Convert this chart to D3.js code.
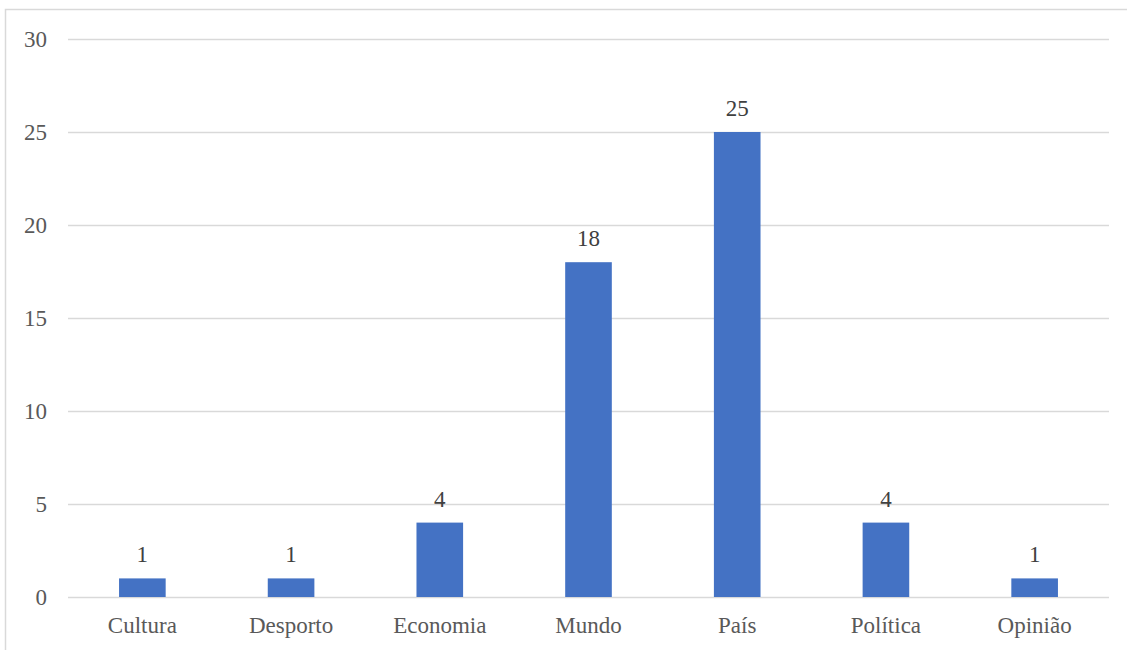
<!DOCTYPE html>
<html>
<head>
<meta charset="utf-8">
<script src="https://cdn.jsdelivr.net/npm/d3@7"></script>
<style>
  html, body { margin: 0; padding: 0; background: #fff; }
  svg { display: block; }
</style>
</head>
<body>
<svg id="chart" width="1127" height="650"></svg>
<script>
// Article counts per newspaper section
const categories = ["Cultura", "Desporto", "Economia", "Mundo", "País", "Política", "Opinião"];
const values = [1, 1, 4, 18, 25, 4, 1];
const yTicks = [0, 5, 10, 15, 20, 25, 30];

const svg = d3.select("#chart");
const serif = "Liberation Serif";
const fontSize = 23;

const plot = { left: 68, right: 1109, top: 39, bottom: 597 };

// Chart area frame (runs past the right and bottom edges)
svg.append("rect")
  .attr("x", 5.5).attr("y", 9.5)
  .attr("width", 1140).attr("height", 660)
  .attr("fill", "#fff")
  .attr("stroke", "#d9d9d9")
  .attr("stroke-width", 1.5);

const x = d3.scaleBand()
  .domain(categories)
  .range([plot.left, plot.right])
  .paddingInner(0.6865)
  .paddingOuter(0.6865 / 2);

const y = d3.scaleLinear()
  .domain([0, 30])
  .range([plot.bottom, plot.top]);

// Horizontal gridlines
svg.append("g")
  .selectAll("line")
  .data(yTicks)
  .join("line")
  .attr("x1", plot.left).attr("x2", plot.right)
  .attr("y1", d => Math.round(y(d)) + 0.5)
  .attr("y2", d => Math.round(y(d)) + 0.5)
  .attr("stroke", "#d9d9d9")
  .attr("stroke-width", 1.5);

// Y axis labels
const yAxis = d3.axisLeft(y).tickValues(yTicks).tickSize(0).tickPadding(0);
const gy = svg.append("g")
  .attr("transform", `translate(47,0)`)
  .call(yAxis)
  .attr("font-family", serif)
  .attr("font-size", fontSize);
gy.select(".domain").remove();
gy.selectAll("text")
  .attr("font-family", serif)
  .attr("font-size", fontSize)
  .attr("fill", "#595959");

// Bars
svg.append("g")
  .selectAll("rect")
  .data(values)
  .join("rect")
  .attr("x", (d, i) => x(categories[i]))
  .attr("width", x.bandwidth())
  .attr("y", d => y(d))
  .attr("height", d => y(0) - y(d))
  .attr("fill", "#4472c4");

// Value labels
svg.append("g")
  .attr("font-family", serif)
  .attr("font-size", fontSize)
  .selectAll("text")
  .data(values)
  .join("text")
  .attr("x", (d, i) => x(categories[i]) + x.bandwidth() / 2)
  .attr("y", d => y(d) - 16)
  .attr("text-anchor", "middle")
  .attr("font-family", serif)
  .attr("font-size", fontSize)
  .attr("fill", "#404040")
  .text(d => d);

// Category labels
const xAxis = d3.axisBottom(x).tickSize(0).tickPadding(0);
const gx = svg.append("g")
  .attr("transform", `translate(0,${plot.bottom})`)
  .call(xAxis)
  .attr("font-family", serif)
  .attr("font-size", fontSize);
gx.select(".domain").remove();
gx.selectAll("text")
  .attr("dy", null)
  .attr("y", 36)
  .attr("font-family", serif)
  .attr("font-size", fontSize)
  .attr("fill", "#595959");
</script>
</body>
</html>
